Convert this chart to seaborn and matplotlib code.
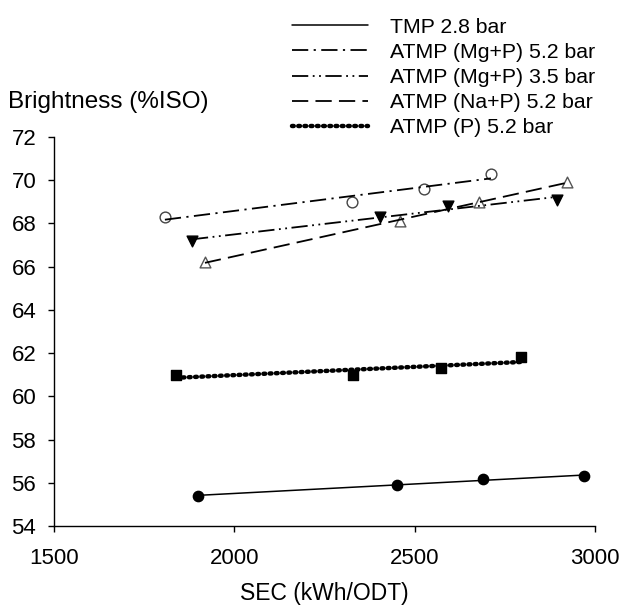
import numpy as np
import pandas as pd
import matplotlib
matplotlib.use("Agg")
import matplotlib.pyplot as plt
import seaborn as sns

# values
sec_tmp = [1900, 2450, 2690, 2970]
bri_tmp = [55.4, 55.9, 56.2, 56.3]

sec_mgp52 = [1808, 2325, 2525, 2711]
bri_mgp52 = [68.3, 69.0, 69.6, 70.3]

sec_mgp35 = [1883, 2403, 2592, 2894]
bri_mgp35 = [67.2, 68.3, 68.8, 69.1]

sec_nap52 = [1919, 2458, 2678, 2922]
bri_nap52 = [66.2, 68.1, 69.0, 69.9]

sec_p52 = [1840, 2330, 2572, 2794]
bri_p52 = [61.0, 61.0, 61.3, 61.8]

labels = ["TMP 2.8 bar", "ATMP (Mg+P) 5.2 bar", "ATMP (Mg+P) 3.5 bar",
          "ATMP (Na+P) 5.2 bar", "ATMP (P) 5.2 bar"]

sns.set_style("ticks")
plt.rcParams['font.family'] = ['Liberation Sans', 'DejaVu Sans']
plt.rcParams['text.color'] = 'black'

fig = plt.figure(figsize=(6.24, 6.11), dpi=100)
ax = fig.add_axes([0.086, 0.139, 0.868, 0.637])

series = [
    (sec_tmp, bri_tmp, "o", dict(color="black", s=55, edgecolor="black", alpha=1),
     dict(ls="-", lw=1.1)),
    (sec_mgp52, bri_mgp52, "o", dict(facecolor="white", edgecolor="#444444", s=60, linewidths=1.0, alpha=1),
     dict(ls=(0, (9, 3, 1.2, 3)), lw=1.3)),
    (sec_mgp35, bri_mgp35, "v", dict(color="black", s=60, edgecolor="black", alpha=1),
     dict(ls=(0, (9, 2.5, 1, 2.5, 1, 2.5)), lw=1.3)),
    (sec_nap52, bri_nap52, "^", dict(facecolor="white", edgecolor="#555555", s=60, linewidths=1.0, alpha=1),
     dict(ls=(0, (9, 4)), lw=1.3)),
    (sec_p52, bri_p52, "s", dict(color="black", s=55, edgecolor="black", alpha=1),
     dict(ls=(0, (0.4, 1.0)), lw=3.2, dash_capstyle="round")),
]

handles = []
for (x, y, mk, skw, lkw), lab in zip(series, labels):
    df = pd.DataFrame({"x": x, "y": y})
    n_before = len(ax.lines)
    sns.regplot(data=df, x="x", y="y", ax=ax, ci=None, truncate=True, marker=mk,
                scatter_kws=skw, line_kws=dict(color="black", **lkw))
    ln = ax.lines[n_before]
    ln.set_label(lab)
    handles.append(ln)

ax.set_xlim(1500, 3000)
ax.set_ylim(54, 72)
ax.set_xticks([1500, 2000, 2500, 3000])
ax.set_yticks(np.arange(54, 73, 2))
ax.tick_params(labelsize=16, length=4.5, width=1, colors="black", direction="out")
ax.tick_params(axis="x", pad=11)
ax.tick_params(axis="y", pad=8)
sns.despine(ax=ax)
for sp in ["left", "bottom"]:
    ax.spines[sp].set_color("black")
    ax.spines[sp].set_linewidth(1)

ax.set_xlabel("SEC (kWh/ODT)", fontsize=16.5, labelpad=10, color="black")
ax.set_ylabel("")
fig.text(0.013, 0.833, "Brightness (%ISO)", fontsize=17.5, va="center", ha="left", color="black")

fig.legend(handles=handles, labels=labels, loc="upper left",
           bbox_to_anchor=(0.447, 0.992), frameon=False, fontsize=15.3,
           handlelength=3.6, handletextpad=1.05, labelspacing=0.29,
           borderaxespad=0.2)

plt.savefig("out.png", dpi=100)
plt.close()
